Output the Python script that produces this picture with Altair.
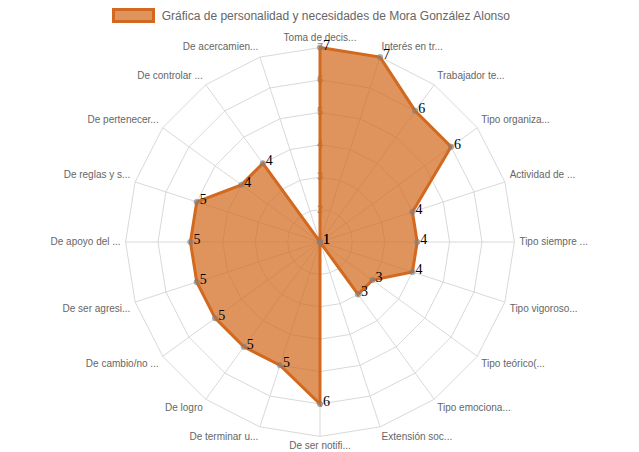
import altair as alt
import pandas as pd

# ---------------- data ----------------
categories = [
    "Toma de decis...", "Interés en tr...", "Trabajador te...", "Tipo organiza...",
    "Actividad de ...", "Tipo siempre ...", "Tipo vigoroso...", "Tipo teórico(...",
    "Tipo emociona...", "Extensión soc...", "De ser notifi...", "De terminar u...",
    "De logro", "De cambio/no ...", "De ser agresi...", "De apoyo del ...",
    "De reglas y s...", "De pertenecer...", "De controlar ...", "De acercamien...",
]
values = [7, 7, 6, 6, 4, 4, 4, 3, 3, 1, 6, 5, 5, 5, 5, 5, 5, 4, 4, 1]
tick_values = [2, 3, 4, 5, 6, 7]
series_name = "Gráfica de personalidad y necesidades de Mora González Alonso"

R_MIN, R_MAX = 1, 7
N = len(categories)

# ---------------- layout ----------------
W, H = 623, 444
CX, CY = 312, 234          # centre of the radar in chart pixels
UNIT = 32.4                # pixels per value unit
LABEL_PAD = 5

LINE = "#D2691E"
GRID = "#d9d9d9"

xs = alt.Scale(domain=[-CX / UNIT, (W - CX) / UNIT], nice=False, zero=False)
ys = alt.Scale(domain=[-(H - CY) / UNIT, CY / UNIT], nice=False, zero=False)
X = alt.X("x:Q", scale=xs, axis=None)
Y = alt.Y("y:Q", scale=ys, axis=None)

data = pd.DataFrame({"cat": categories, "value": values,
                     "idx": list(range(N)), "series": series_name})
grid = pd.DataFrame([{"level": t, "idx": i} for t in tick_values for i in range(N)])
ticks_df = pd.DataFrame({"level": tick_values})
legend_df = pd.DataFrame({"series": [series_name]})

ANG = f"datum.idx * 2 * PI / {N}"


def polar(ch, rexpr):
    return (ch.transform_calculate(a=ANG)
              .transform_calculate(r=rexpr)
              .transform_calculate(x="datum.r * sin(datum.a)")
              .transform_calculate(y="datum.r * cos(datum.a)"))


# grid rings
rings = polar(alt.Chart(grid), f"datum.level - {R_MIN}").mark_line(
    interpolate="linear-closed", stroke=GRID, strokeWidth=1
).encode(x=X, y=Y, detail="level:N", order="idx:Q")

# spokes
spokes = polar(alt.Chart(data), f"{R_MAX - R_MIN}").transform_calculate(o="0").mark_rule(
    stroke=GRID, strokeWidth=1
).encode(x=alt.X("o:Q", scale=xs, axis=None), y=alt.Y("o:Q", scale=ys, axis=None),
         x2="x:Q", y2="y:Q")

# category labels
cat_labels = polar(alt.Chart(data), f"{R_MAX - R_MIN} + {LABEL_PAD / UNIT}").mark_text(
    font="Liberation Sans", fontSize=10, color="#666666",
    align=alt.ExprRef(expr="abs(datum.x) < 0.01 ? 'center' : (datum.x > 0 ? 'left' : 'right')"),
    baseline=alt.ExprRef(expr="abs(datum.y) < 0.01 ? 'middle' : (datum.y > 0 ? 'bottom' : 'top')"),
).encode(x=X, y=Y, text="cat:N")

# tick labels
tick_labels = alt.Chart(ticks_df).transform_calculate(
    x="0", y=f"datum.level - {R_MIN}"
).mark_text(font="Liberation Sans", fontSize=11, color="#8a8a8a",
            align="center", baseline="middle").encode(x=X, y=Y, text="level:Q")

# filled polygon
poly = polar(alt.Chart(data), f"datum.value - {R_MIN}").mark_line(
    interpolate="linear-closed", stroke=LINE, strokeWidth=3,
    fill=LINE, fillOpacity=0.72
).encode(x=X, y=Y, order="idx:Q")

points = polar(alt.Chart(data), f"datum.value - {R_MIN}").mark_point(
    filled=True, size=30, fill="#808080", fillOpacity=0.5,
    stroke="#808080", strokeOpacity=0.5, strokeWidth=1
).encode(x=X, y=Y)

value_labels = polar(alt.Chart(data), f"datum.value - {R_MIN}").mark_text(
    font="Liberation Serif", fontSize=14, color="black",
    align="left", baseline="alphabetic", dx=3, dy=2
).encode(x=X, y=Y, text="value:Q")

# legend
leg_box = alt.Chart(legend_df).mark_rect(
    fill=LINE, fillOpacity=0.72, stroke=LINE, strokeWidth=3
).encode(x=alt.value(105.5), x2=alt.value(145.5), y=alt.value(1.5), y2=alt.value(13.5))
leg_text = alt.Chart(legend_df).mark_text(
    font="Liberation Sans", fontSize=12, color="#666666", align="left", baseline="middle"
).encode(x=alt.value(153.7), y=alt.value(7.5), text="series:N")

chart = alt.layer(
    rings, spokes, cat_labels, tick_labels, poly, points, value_labels, leg_box, leg_text
).properties(
    width=W, height=H, padding=0, autosize=alt.AutoSizeParams(type="none"),
    background="white"
).configure_view(stroke=None)

chart.save("out.html", embed_options={"renderer": "svg", "actions": False})
